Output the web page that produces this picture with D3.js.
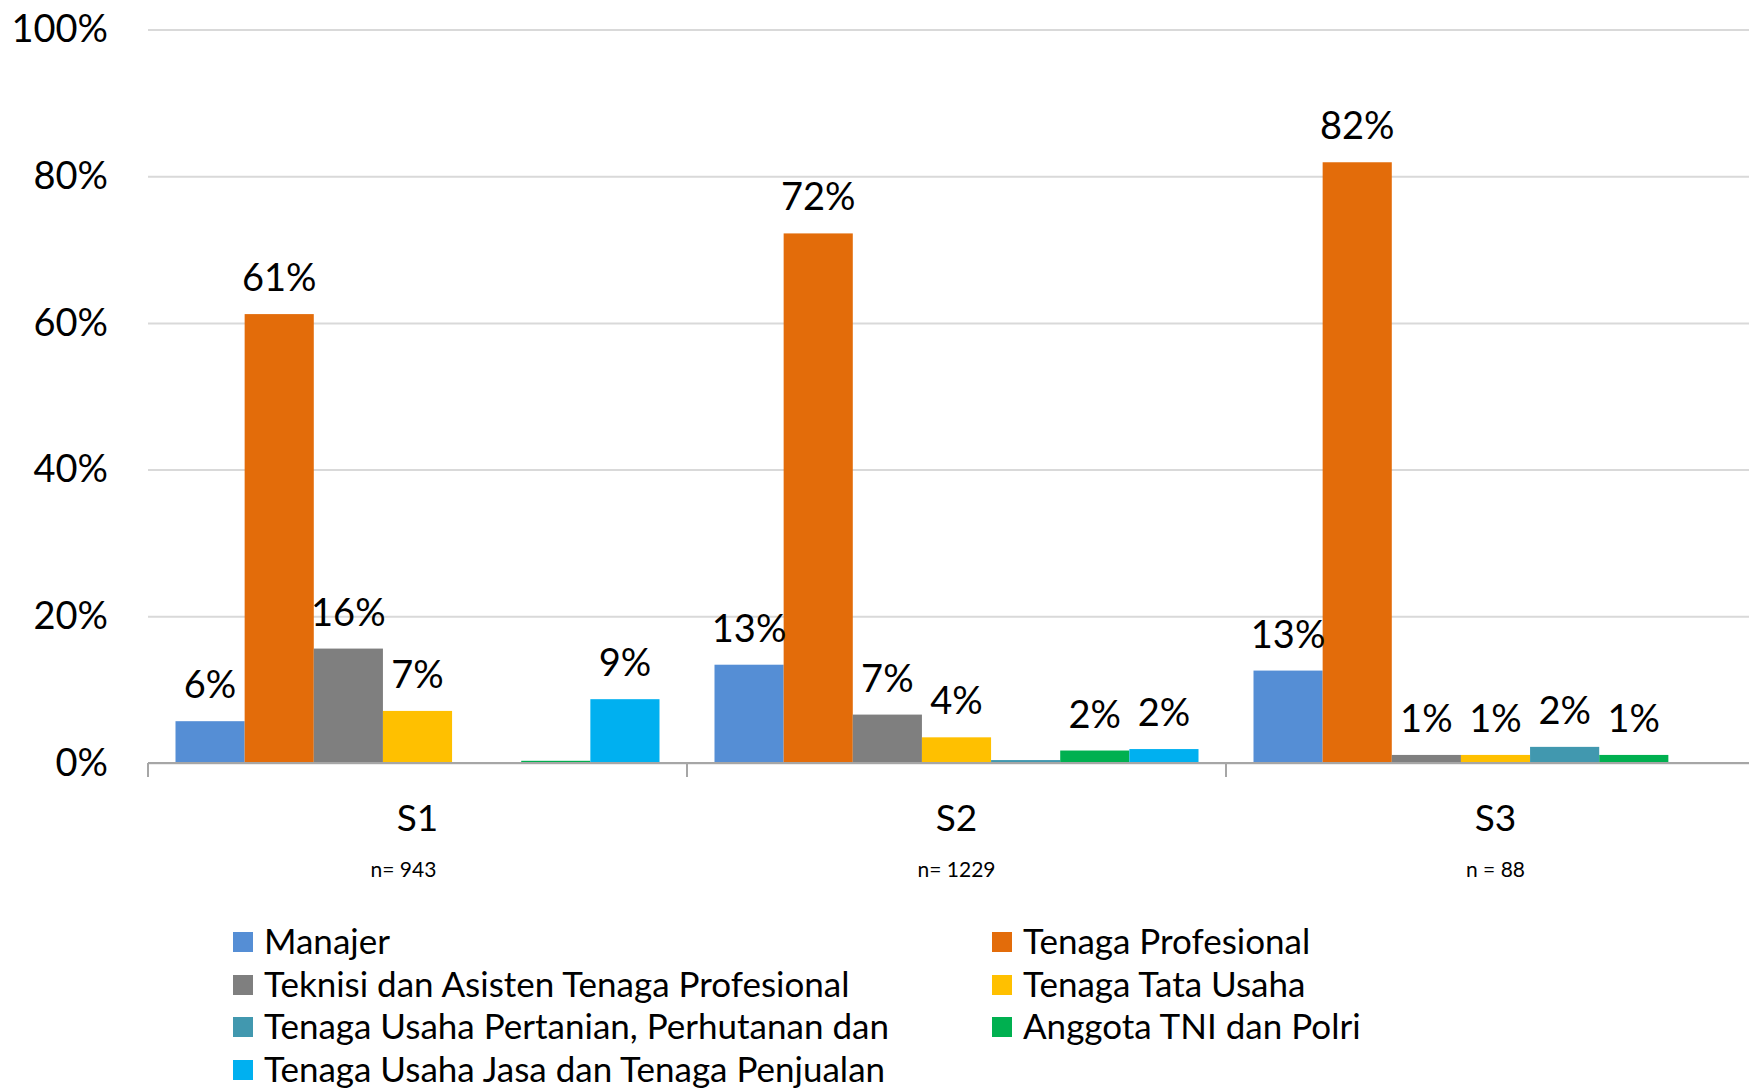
<!DOCTYPE html>
<html>
<head>
<meta charset="utf-8">
<script src="https://cdn.jsdelivr.net/npm/d3@7"></script>
<style>
  html, body { margin: 0; padding: 0; background: #fff; }
  svg { display: block; font-family: Lato, "Open Sans", sans-serif; }
</style>
</head>
<body>
<svg id="chart" width="1749" height="1088"></svg>
<script>
// categories (jenjang) and sample sizes
const categories = ['S1', 'S2', 'S3'];
const sampleSizes = ['n= 943', 'n= 1229', 'n = 88'];

// series, in bar order
const seriesNames = [
  'Manajer',
  'Tenaga Profesional',
  'Teknisi dan Asisten Tenaga Profesional',
  'Tenaga Tata Usaha',
  'Tenaga Usaha Pertanian, Perhutanan dan',
  'Anggota TNI dan Polri',
  'Tenaga Usaha Jasa dan Tenaga Penjualan'
];
const seriesColors = ['#558ed5', '#e36c0a', '#7f7f7f', '#ffc000', '#4198af', '#00b050', '#00b0f0'];

// percent values per series, one per category (S1, S2, S3)
const manajer     = [5.7, 13.4, 12.6];
const profesional = [61.2, 72.2, 81.9];
const teknisi     = [15.6, 6.6, 1.1];
const tataUsaha   = [7.1, 3.5, 1.1];
const pertanian   = [0, 0.4, 2.2];
const tni         = [0.3, 1.7, 1.1];
const jasa        = [8.7, 1.9, 0];

const seriesValues = [manajer, profesional, teknisi, tataUsaha, pertanian, tni, jasa];
const yTicks = [0, 20, 40, 60, 80, 100];

const W = 1749;
const plot = { left: 148, top: 29.5, bottom: 763, catWidth: 539 };

const svg = d3.select('#chart');

const x0 = d3.scaleBand()
  .domain(categories)
  .range([plot.left, plot.left + plot.catWidth * categories.length])
  .paddingInner(0).paddingOuter(0);

const x1 = d3.scaleBand()
  .domain(seriesNames)
  .range([27.5, x0.bandwidth() - 27.5])
  .padding(0);

const y = d3.scaleLinear().domain([0, 100]).range([plot.bottom, plot.top]);

// gridlines + y labels
const yAxis = svg.append('g')
  .attr('transform', `translate(${plot.left},0)`)
  .call(d3.axisLeft(y).tickValues(yTicks)
    .tickSize(-(W - plot.left)).tickPadding(40)
    .tickFormat(d => d + '%'));
yAxis.select('.domain').remove();
yAxis.selectAll('line').attr('stroke', '#d9d9d9').attr('stroke-width', 2);
yAxis.selectAll('text')
  .attr('font-size', 38)
  .attr('font-family', 'Lato, sans-serif')
  .attr('fill', '#000');

// bars
const groups = svg.append('g').selectAll('g')
  .data(categories)
  .join('g')
  .attr('transform', c => `translate(${x0(c)},0)`);

const rows = (c, ci) => seriesNames.map((s, si) => ({ s, v: seriesValues[si][ci], color: seriesColors[si] }));

groups.selectAll('rect')
  .data(rows)
  .join('rect')
  .attr('x', d => x1(d.s))
  .attr('width', x1.bandwidth())
  .attr('y', d => y(d.v))
  .attr('height', d => y(0) - y(d.v))
  .attr('fill', d => d.color);

// data labels (hidden for near-zero bars, as in the original)
groups.selectAll('text.lbl')
  .data((c, ci) => rows(c, ci).filter(d => d.v >= 0.5))
  .join('text')
  .attr('class', 'lbl')
  .attr('x', d => x1(d.s) + x1.bandwidth() / 2)
  .attr('y', d => y(d.v) - 23)
  .attr('text-anchor', 'middle')
  .attr('font-size', 38)
  .text(d => Math.round(d.v) + '%');

// x axis baseline and category ticks
svg.append('line')
  .attr('x1', plot.left).attr('x2', W)
  .attr('y1', y(0)).attr('y2', y(0))
  .attr('stroke', '#a6a6a6').attr('stroke-width', 2);

svg.append('g').selectAll('line')
  .data(categories)
  .join('line')
  .attr('x1', c => x0(c)).attr('x2', c => x0(c))
  .attr('y1', y(0)).attr('y2', y(0) + 14)
  .attr('stroke', '#a6a6a6').attr('stroke-width', 2);

svg.append('g').selectAll('text')
  .data(categories)
  .join('text')
  .attr('x', c => x0(c) + x0.bandwidth() / 2)
  .attr('y', 831)
  .attr('text-anchor', 'middle')
  .attr('font-size', 37)
  .text(c => c);

svg.append('g').selectAll('text')
  .data(sampleSizes)
  .join('text')
  .attr('x', (n, i) => x0(categories[i]) + x0.bandwidth() / 2 - (i === 0 ? 14 : 0))
  .attr('y', 877)
  .attr('text-anchor', 'middle')
  .attr('font-size', 21)
  .text(n => n);

// legend, two columns
const legendCols = [233, 992];
const legendRows = [942, 985, 1027, 1070];
const legend = svg.append('g').selectAll('g')
  .data(seriesNames)
  .join('g')
  .attr('transform', (s, i) => `translate(${legendCols[i % 2]},${legendRows[Math.floor(i / 2)]})`);

legend.append('rect')
  .attr('x', 0).attr('y', -10)
  .attr('width', 20).attr('height', 20)
  .attr('fill', (s, i) => seriesColors[i]);

legend.append('text')
  .attr('x', 31)
  .attr('y', 12)
  .attr('font-size', 35)
  .text(s => s);
</script>
</body>
</html>
